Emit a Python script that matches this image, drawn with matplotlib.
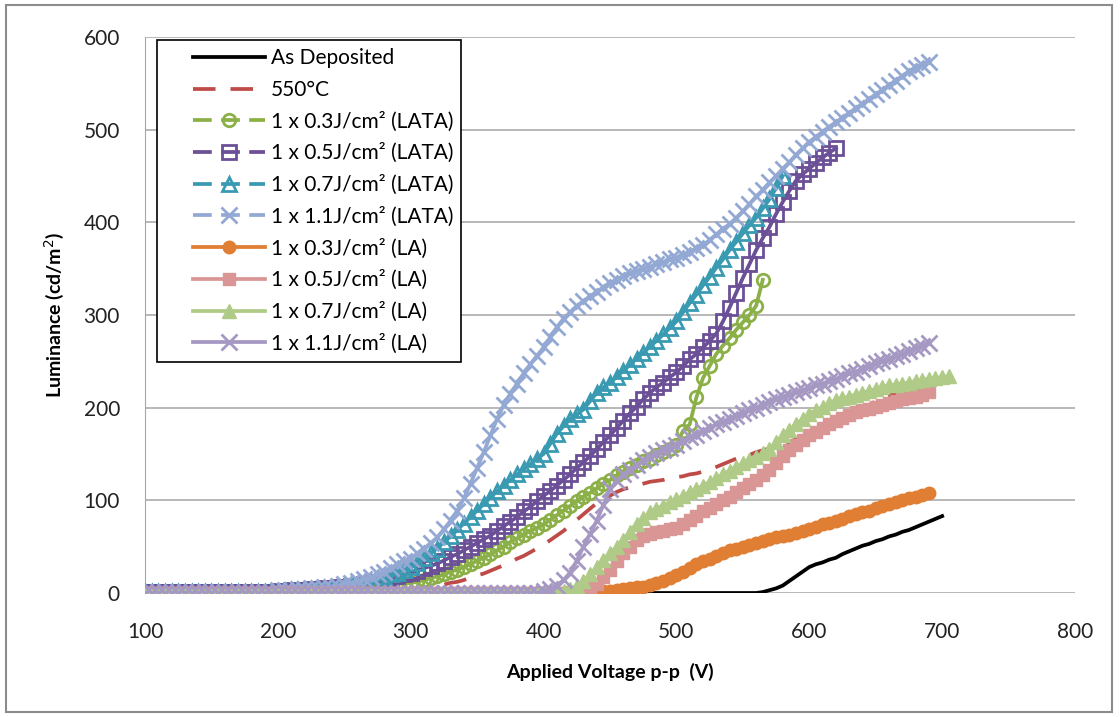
import numpy as np
import matplotlib
matplotlib.use("Agg")
import matplotlib.pyplot as plt
from matplotlib.lines import Line2D
from matplotlib.patches import Rectangle
from matplotlib.legend_handler import HandlerLine2D

plt.rcParams['font.family'] = ['Lato', 'DejaVu Sans']

# luminance (cd/m2), one value every 5 V starting at 100 V
as_deposited = [0] * 92 + [0, 1, 3, 5, 8, 13, 18, 23, 28, 31, 33, 36, 38, 42, 45, 48, 51, 53, 56, 58,
                           61, 63, 66, 68, 71, 74, 77, 80, 83]

ann_550 = [0] * 20 + [1, 1, 1, 1, 1, 2, 2, 2, 2, 2, 2, 2, 3, 3, 3, 3, 3, 4, 4, 4,
                      4, 5, 6, 7, 8, 9, 11, 12, 14, 17, 19, 21, 24, 27, 30, 33, 37, 40, 44, 48,
                      52, 57, 62, 67, 73, 79, 85, 91, 97, 101, 105, 109, 112, 114, 116, 118, 120, 121, 122, 124,
                      125, 126, 128, 129, 131, 133, 136, 139, 142, 145, 147, 149, 152, 154, 156, 158, 160, 163, 166, 169,
                      172, 175, 178, 182, 185, 189, 193, 196, 200, 203, 207, 210, 213, 215, 217, 219, 220, 221, 222]

lata_03 = [1] * 20 + [2, 2, 2, 2, 3, 3, 3, 3, 4, 4, 5, 5, 6, 6, 7, 7, 8, 9, 10, 10,
                      11, 12, 14, 16, 18, 20, 23, 25, 28, 31, 35, 38, 42, 46, 50, 55, 59, 63, 67, 70,
                      74, 79, 84, 89, 94, 99, 104, 108, 113, 118, 122, 127, 131, 135, 138, 142, 145, 149, 152, 155,
                      160, 175, 182, 211, 232, 245, 258, 267, 275, 284, 292, 300, 310, 338]

lata_05 = [1] * 20 + [2, 2, 3, 3, 3, 4, 4, 5, 5, 6, 7, 8, 9, 10, 11, 12, 14, 16, 18, 20,
                      22, 24, 27, 29, 32, 35, 39, 42, 46, 50, 54, 58, 62, 67, 72, 77, 82, 88, 93, 99,
                      105, 110, 116, 122, 128, 135, 141, 148, 155, 163, 170, 178, 186, 194, 201, 209, 216, 222, 227, 233,
                      238, 245, 252, 258, 265, 272, 280, 293, 308, 324, 340, 355, 370, 383, 395, 409, 422, 434, 445, 452,
                      458, 464, 470, 475, 480]

lata_07 = [1] * 20 + [2, 2, 3, 3, 3, 4, 4, 5, 6, 7, 8, 9, 10, 11, 12, 14, 17, 20, 22, 25,
                      28, 32, 38, 43, 48, 55, 61, 68, 75, 82, 89, 96, 103, 110, 116, 122, 128, 134, 139, 145,
                      150, 161, 172, 180, 188, 193, 198, 207, 216, 222, 227, 233, 240, 246, 253, 259, 266, 272, 279, 286,
                      293, 303, 313, 322, 332, 341, 351, 360, 370, 379, 388, 397, 405, 415, 425, 437, 450]

lata_11 = [1] * 20 + [3, 3, 3, 4, 4, 5, 5, 6, 7, 8, 10, 11, 13, 15, 17, 20, 23, 27, 31, 34,
                      37, 43, 48, 54, 60, 69, 78, 89, 102, 118, 135, 152, 170, 188, 203, 215, 226, 237, 247, 256,
                      265, 276, 287, 296, 303, 310, 315, 320, 325, 330, 334, 338, 342, 345, 348, 350, 352, 355, 357, 360,
                      362, 365, 368, 372, 375, 381, 387, 393, 398, 405, 412, 420, 428, 435, 443, 450, 458, 465, 473, 480,
                      487, 492, 498, 503, 508, 513, 518, 523, 528, 533, 538, 543, 548, 553, 558, 563, 567, 570, 573]

la_03 = [0] * 64 + [0, 0, 1, 1, 1, 2, 2, 3, 4, 5, 6, 7, 9, 11, 13, 16, 19, 23, 27, 31,
                    34, 37, 40, 43, 46, 48, 50, 52, 54, 56, 58, 60, 61, 63, 65, 67, 69, 71, 74, 76,
                    78, 80, 83, 85, 87, 89, 92, 94, 96, 98, 100, 102, 104, 106, 108]

la_05 = [0] * 64 + [1, 1, 3, 6, 10, 17, 25, 34, 43, 50, 57, 61, 64, 66, 67, 69, 70, 74, 79, 83,
                    88, 92, 96, 100, 104, 109, 113, 118, 122, 127, 133, 140, 148, 154, 160, 165, 170, 174, 178, 182,
                    186, 189, 192, 195, 197, 199, 201, 203, 205, 207, 209, 210, 212, 214, 217]

la_07 = [0] * 62 + [1, 2, 4, 8, 13, 20, 28, 36, 43, 50, 57, 66, 75, 81, 87, 91, 94, 98, 101, 105,
                    109, 112, 116, 120, 124, 128, 132, 136, 140, 144, 147, 151, 155, 163, 170, 176, 182, 188, 193, 197,
                    201, 205, 208, 210, 212, 214, 216, 218, 220, 222, 224, 225, 226, 227, 229, 230, 231, 232, 233, 234]

la_11 = [0] * 60 + [2, 4, 8, 14, 22, 35, 50, 64, 78, 95, 112, 121, 128, 133, 138, 143, 147, 151, 154, 157,
                    160, 164, 168, 171, 175, 178, 182, 185, 188, 191, 194, 197, 200, 203, 206, 209, 212, 214, 217, 219,
                    221, 224, 226, 229, 231, 234, 237, 239, 242, 245, 248, 250, 253, 256, 258, 261, 264, 267, 270]

labels = ['As Deposited', '550°C',
          '1 x 0.3J/cm² (LATA)', '1 x 0.5J/cm² (LATA)', '1 x 0.7J/cm² (LATA)', '1 x 1.1J/cm² (LATA)',
          '1 x 0.3J/cm² (LA)', '1 x 0.5J/cm² (LA)', '1 x 0.7J/cm² (LA)', '1 x 1.1J/cm² (LA)']
series = [as_deposited, ann_550, lata_03, lata_05, lata_07, lata_11, la_03, la_05, la_07, la_11]

# colour, marker, filled, marker size, legend dashed
styles = [
    ('black', None, True, 0, False),
    ('#be4b48', None, True, 0, False),
    ('#8cb048', 'o', False, 9, True),
    ('#6b4f97', 's', False, 10, True),
    ('#3a9ab2', '^', False, 10, True),
    ('#93a9d3', 'x', True, 11, True),
    ('#e07f33', 'o', True, 9, False),
    ('#d99694', 's', True, 9, False),
    ('#afcb87', '^', True, 10, False),
    ('#a598c3', 'x', True, 11, False),
]

fig = plt.figure(figsize=(11.2, 7.17), dpi=100)
ax = fig.add_axes([145 / 1120, 1 - 593 / 717, 930 / 1120, 556 / 717])

handles = []
for y, lab, (col, mk, filled, ms, dashed) in zip(series, labels, styles):
    y = np.array(y, dtype=float)
    x = np.arange(100, 100 + 5 * len(y), 5)
    kw = dict(color=col, lw=2.7, zorder=3)
    if mk is not None:
        kw.update(marker=mk, markersize=ms, markeredgewidth=2 if not filled or mk == 'x' else 1,
                  markeredgecolor=col)
        kw['markerfacecolor'] = col if filled else 'none'
    if lab == '550°C':
        kw['linestyle'] = (0, (6, 4))
    ax.plot(x, y, **kw)

    hk = dict(kw)
    hk.pop('zorder')
    if dashed:
        hk['linestyle'] = (0, (5, 2.5))
    handles.append(Line2D([], [], **hk))

ax.set_xlim(100, 800)
ax.set_ylim(0, 600)
ax.set_xticks(range(100, 801, 100))
ax.set_yticks(range(0, 601, 100))
ax.yaxis.grid(True, color='#ababab', lw=1.2)
ax.set_axisbelow(True)
for s in ['top', 'right', 'bottom']:
    ax.spines[s].set_visible(False)
ax.spines['left'].set_color('#a6a6a6')
ax.tick_params(axis='both', length=0, labelsize=15, colors='#222222')
ax.tick_params(axis='y', pad=18)
ax.tick_params(axis='x', pad=21)

ax.set_xlabel('Applied Voltage p-p  (V)', fontsize=14, fontweight='bold', labelpad=15)
ax.set_ylabel('Luminance (cd/m$^{2}$)', fontsize=14, fontweight='bold', labelpad=13)

fs = 15
leg = ax.legend(handles, labels, loc='upper left', bbox_to_anchor=(12 / 930, 1 - 3 / 556),
                borderaxespad=0, fontsize=fs, handlelength=4.8, handletextpad=0.25,
                labelspacing=0.555, fancybox=False, framealpha=1, edgecolor='black',
                borderpad=0.4, numpoints=1,
                handler_map={Line2D: HandlerLine2D(xpad=1.35)})
leg.get_frame().set_linewidth(1.2)

fig.patches.append(Rectangle((6 / 1120, 5 / 717), 1106 / 1120, 707 / 717, transform=fig.transFigure,
                             fill=False, edgecolor='#8c8c8c', lw=1.5))

fig.savefig('out.png', dpi=100)
